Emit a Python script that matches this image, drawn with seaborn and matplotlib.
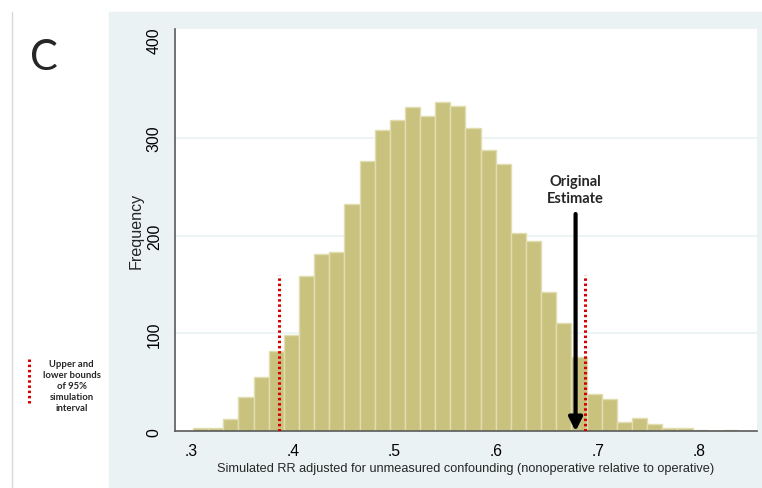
"""
Histogram of simulated RR adjusted for unmeasured confounding (panel C).
Stata-like look: light blue graph region, khaki bars, 95% bounds, original estimate.
"""

import numpy as np
import pandas as pd
import matplotlib
matplotlib.use("Agg")
import matplotlib.pyplot as plt
import seaborn as sns
from matplotlib.patches import Rectangle
from matplotlib.lines import Line2D
from matplotlib.ticker import FuncFormatter

# ── data ─────────────────────────────────────────────────────
bin_start = 0.3019
bin_width = 0.014886
counts = [3, 3, 13, 35, 55, 82, 98, 159, 181, 183, 232, 276,
          308, 318, 331, 322, 336, 332, 310, 287, 273, 203, 194, 142,
          111, 76, 38, 33, 10, 14, 7, 3, 3, 1, 0, 1]
bounds_95 = [0.3867, 0.6869]
bounds_height = 160
original_estimate = 0.6781
x_ticks = [0.3, 0.4, 0.5, 0.6, 0.7, 0.8]
y_ticks = [0, 100, 200, 300, 400]

STATA_BG = "#EAF2F3"
BAR_CLR = "#C9C27F"
BAR_EDGE = "#E2DDB0"
AXIS_CLR = "#5A5A5A"
DOT_RED = "#D40000"

edges = bin_start + bin_width * np.arange(len(counts) + 1)
df = pd.DataFrame({"rr": (edges[:-1] + edges[1:]) / 2, "n": counts})

sns.set_style("white")
plt.rcParams["font.family"] = ["Liberation Sans", "DejaVu Sans"]

fig = plt.figure(figsize=(7.62, 4.89), dpi=100)
W, H = 762, 489

# graph region + left margin line
fig.patches.append(Rectangle((109 / W, 1 / H), 1 - 109 / W, (476 - 1) / H,
                             transform=fig.transFigure, color=STATA_BG, zorder=-5))
fig.lines.append(Line2D([12 / W, 12 / W], [0, 1 - 13 / H], transform=fig.transFigure,
                        color="#D9D9D9", lw=1))

ax = fig.add_axes([175 / W, (H - 432.3) / H, (757 - 175) / W, (432.3 - 30) / H])
ax.set_facecolor("white")

sns.histplot(data=df, x="rr", weights="n", bins=edges.tolist(), ax=ax,
             color=BAR_CLR, edgecolor=BAR_EDGE, linewidth=1.0, alpha=1,
             zorder=2)

ax.set_xlim(0.2842, 0.8565)
ax.set_ylim(0, 411)
ax.set_xticks(x_ticks)
ax.set_yticks(y_ticks)
ax.xaxis.set_major_formatter(FuncFormatter(lambda v, _: f"{v:.1f}".lstrip("0")))

for y in y_ticks[1:-1]:
    ax.axhline(y, color=STATA_BG, lw=1.2, zorder=1)

for side in ["top", "right"]:
    ax.spines[side].set_visible(False)
for side in ["left", "bottom"]:
    ax.spines[side].set_color(AXIS_CLR)
    ax.spines[side].set_linewidth(1.2)

ax.tick_params(axis="both", direction="out", length=5.5, width=1,
               color=AXIS_CLR, labelsize=11.3, labelcolor="black", pad=3)
ax.tick_params(axis="y", labelrotation=90, pad=4)
for lbl in ax.get_yticklabels():
    lbl.set_va("center")

ax.set_xlabel("Simulated RR adjusted for unmeasured confounding "
              "(nonoperative relative to operative)", fontsize=9.2, labelpad=3)
ax.set_ylabel("Frequency", fontsize=11.6, labelpad=2)

# 95% simulation interval bounds
ax.vlines(bounds_95, 0, bounds_height, colors=DOT_RED, lw=2.2,
          linestyles=(0, (0.8, 0.9)), zorder=4)

# original estimate arrow
ax.annotate("", xy=(original_estimate, 0), xytext=(original_estimate, 222),
            arrowprops=dict(arrowstyle="-|>", lw=3, color="black",
                            mutation_scale=20, shrinkA=0, shrinkB=0),
            zorder=5)
ax.text(original_estimate, 247, "Original\nEstimate", ha="center", va="center",
        fontsize=10.5, fontweight="bold", family="Lato", linespacing=1.32)

# panel letter and side legend
fig.text(44 / W, 1 - 58 / H, "C", fontsize=30, family="Lato",
         ha="center", va="center")
fig.lines.append(Line2D([29 / W, 29 / W], [1 - 360 / H, 1 - 406 / H],
                        transform=fig.transFigure, color=DOT_RED, lw=2.2,
                        linestyle=(0, (0.8, 0.9))))
fig.text(71.5 / W, 1 - 386.5 / H,
         "Upper and\nlower bounds\nof 95%\nsimulation\ninterval",
         fontsize=6.8, fontweight="bold", family="Lato",
         ha="center", va="center", linespacing=1.27)

fig.savefig("out.png", dpi=100, facecolor="white")
